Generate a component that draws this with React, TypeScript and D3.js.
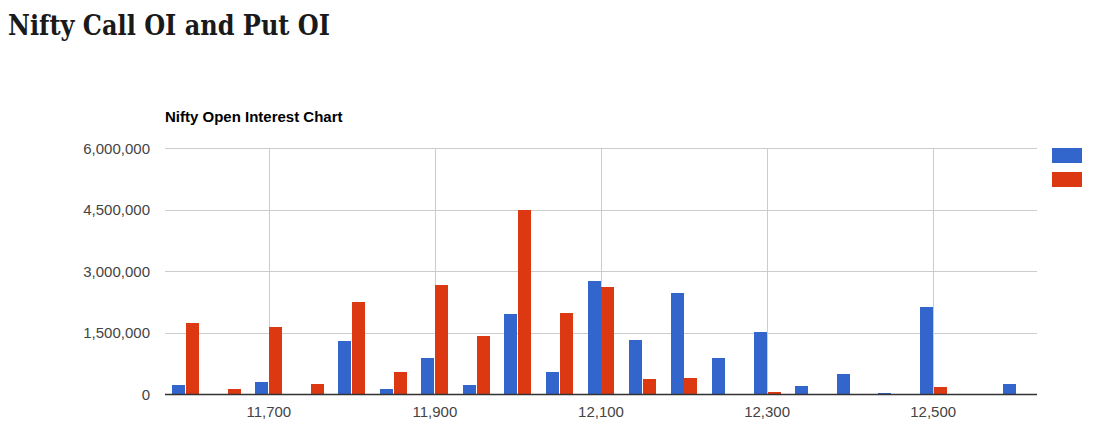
import React, { useMemo } from 'react';
import * as d3 from 'd3';

// strike prices (x categories)
const strikes = [
  11600, 11650, 11700, 11750, 11800, 11850, 11900, 11950, 12000, 12050, 12100,
  12150, 12200, 12250, 12300, 12350, 12400, 12450, 12500, 12550, 12600,
];
// open interest per strike
const callOI = [
  228000, 0, 301000, 0, 1300000, 130000, 886000, 228000, 1959000, 545000, 2764000,
  1325000, 2472000, 886000, 1520000, 203000, 496000, 30000, 2130000, 0, 252000,
];
const putOI = [
  1740000, 130000, 1642000, 252000, 2252000, 545000, 2667000, 1423000, 4496000, 1984000, 2618000,
  374000, 398000, 0, 50000, 0, 0, 0, 179000, 0, 0,
];
const seriesNames = ['Call OI', 'Put OI'];
const seriesColors = ['#3366cc', '#dc3912'];
const yTicks = [0, 1500000, 3000000, 4500000, 6000000];
const xTicks = [11700, 11900, 12100, 12300, 12500];

const W = 1107;
const H = 445;
const plot = { left: 165, right: 1037, top: 148, bottom: 394 };

export default function App() {
  const x = useMemo(() => d3.scaleLinear().domain([11575, 12625]).range([plot.left, plot.right]), []);
  const y = useMemo(() => d3.scaleLinear().domain([0, 6000000]).range([plot.bottom, plot.top]), []);
  const inner = useMemo(
    () => d3.scaleBand<string>().domain(seriesNames).range([-13.5, 13.5]).paddingInner(0.06),
    []
  );
  const fmt = d3.format(',');
  const series = [callOI, putOI];

  return (
    <svg
      width={W}
      height={H}
      style={{ position: 'absolute', left: 0, top: 0, display: 'block' }}
      fontFamily="Arial, 'Liberation Sans', sans-serif"
    >
      <rect width={W} height={H} fill="#fff" />
      <text
        x={8}
        y={35}
        fontFamily="'DejaVu Serif', serif"
        fontWeight="bold"
        fontSize={27}
        fill="#1a1a1a"
        textLength={322}
        lengthAdjust="spacingAndGlyphs"
      >
        Nifty Call OI and Put OI
      </text>

      <text x={plot.left} y={122} fontSize={15} fontWeight="bold" fill="#000">
        Nifty Open Interest Chart
      </text>

      {/* horizontal grid + y labels */}
      {yTicks.map((t) => (
        <g key={`y-${t}`}>
          {t > 0 && (
            <line x1={plot.left} x2={plot.right} y1={Math.round(y(t)) + 0.5} y2={Math.round(y(t)) + 0.5} stroke="#cccccc" />
          )}
          <text x={150} y={y(t) + 5.5} textAnchor="end" fontSize={15} fill="#444">
            {fmt(t)}
          </text>
        </g>
      ))}

      {/* vertical grid + x labels */}
      {xTicks.map((t) => (
        <g key={`x-${t}`}>
          <line x1={Math.round(x(t)) + 0.5} x2={Math.round(x(t)) + 0.5} y1={plot.top} y2={plot.bottom} stroke="#cccccc" />
          <text x={x(t)} y={417} textAnchor="middle" fontSize={15} fill="#444">
            {fmt(t)}
          </text>
        </g>
      ))}

      {/* bars */}
      {strikes.map((s, i) => (
        <g key={`b-${s}`}>
          {series.map((vals, k) => {
            const v = vals[i];
            if (!v) return null;
            const x0 = Math.round(x(s) + (inner(seriesNames[k]) ?? 0));
            const y0 = Math.round(y(v));
            return (
              <rect
                key={k}
                x={x0}
                y={y0}
                width={Math.round(inner.bandwidth())}
                height={Math.max(1, plot.bottom - y0)}
                fill={seriesColors[k]}
                shapeRendering="crispEdges"
              />
            );
          })}
        </g>
      ))}

      {/* baseline */}
      <line x1={plot.left} x2={plot.right} y1={plot.bottom + 0.5} y2={plot.bottom + 0.5} stroke="#333" strokeWidth={1.5} />

      {/* legend swatches (labels fall outside the visible area in the reference) */}
      {seriesNames.map((n, k) => (
        <rect key={n} x={1052} y={148 + k * 24} width={30} height={15} fill={seriesColors[k]} />
      ))}
    </svg>
  );
}
